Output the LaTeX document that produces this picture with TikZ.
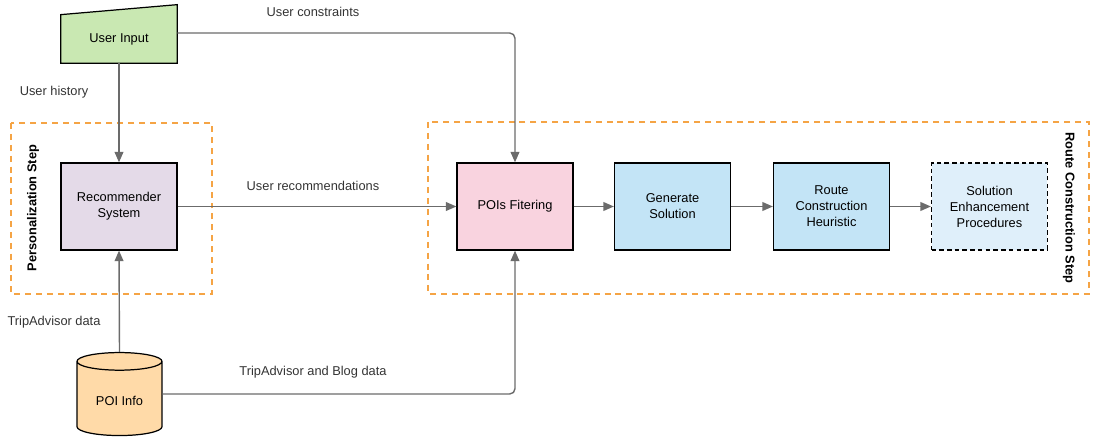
\documentclass[tikz,border=0pt]{standalone}
\usepackage{fontspec}
\setmainfont{Liberation Sans}
\usepackage{tikz}
\usetikzlibrary{shapes.geometric, arrows.meta, calc, backgrounds}
\definecolor{inputgreen}{HTML}{C9E8B2}
\definecolor{recpurple}{HTML}{E4DAE8}
\definecolor{filterpink}{HTML}{F9D3DF}
\definecolor{stepblue}{HTML}{C3E4F6}
\definecolor{enhblue}{HTML}{DFEFFA}
\definecolor{poiorange}{HTML}{FFDAA8}
\definecolor{phaseorange}{HTML}{F5A445}
\definecolor{flowgray}{HTML}{6B6B6B}
\definecolor{labelgray}{HTML}{333333}
\tikzstyle{block}  = [draw, line width=0.7pt, minimum width=2.32cm, minimum height=1.74cm, align=center]
\tikzstyle{flow}   = [draw=flowgray, line width=0.8pt, -{Triangle[length=6pt, width=5pt]}]
\tikzstyle{phase}  = [draw=phaseorange, line width=0.75pt, dash pattern=on 3.4pt off 2.8pt]
\tikzstyle{info}   = [text=labelgray]
\tikzstyle{stage}  = [font=\fontsize{7.3pt}{9pt}\selectfont\bfseries]

\begin{document}
\begin{tikzpicture}[x=0.02cm, y=-0.02cm, font=\fontsize{7.3pt}{9.1pt}\selectfont]
\useasboundingbox (0,0) rectangle (1093,438);

% phases
\draw [phase] (11,123) rectangle (212,294);
\draw [phase] (428,122) rectangle (1089,294);
\node [stage, rotate=90]  at (33,208)   (pstep) {Personalization Step};
\node [stage, rotate=-90] at (1069,208) (rstep) {Route Construction Step};

% nodes
\node [minimum width=2.32cm, minimum height=0.96cm] at (119,39) (input) {User Input};
\begin{scope}[on background layer]
  \draw [fill=inputgreen, line width=0.7pt]
    (input.south west) -- (input.south east) -- ($(input.north east)+(0,-10)$) -- (input.north west) -- cycle;
\end{scope}
\node [block, fill=recpurple]  at (119,206.5) (rec)    {Recommender\\System};
\node [block, fill=filterpink] at (515,206.5) (filter) {POIs Fitering};
\node [block, fill=stepblue]   at (672.5,206.5) (gen)  {Generate\\Solution};
\node [block, fill=stepblue]   at (831.5,206.5) (heur) {Route\\Construction\\Heuristic};
\node [block, fill=enhblue, dash pattern=on 2.6pt off 1.8pt] at (989.5,206.5) (enh) {Solution\\Enhancement\\Procedures};
\node [draw, line width=0.7pt, fill=poiorange, cylinder, shape border rotate=90, aspect=0.3,
       minimum width=1.7cm, minimum height=1.66cm] at (119.5,401) (poi) {POI Info};

% edges
\path [flow] (input.south) -- (rec.north);
\path [flow, rounded corners=3pt] ($(input.east)+(0,-6)$) -| (filter.north);
\path [flow] (rec.east) -- (filter.west);
\path [flow] (poi.north) -- (rec.south);
\path [flow, rounded corners=3pt] ($(poi.east)+(0,-7)$) -| (filter.south);
\path [flow] (filter) -- (gen);
\path [flow] (gen) -- (heur);
\path [flow] (heur) -- (enh);

% labels
\node [info] at (313,12)  (lcons) {User constraints};
\node [info] at (54,92)   (lhist) {User history};
\node [info] at (313,186) (lrec)  {User recommendations};
\node [info] at (54,322)  (ltrip) {TripAdvisor data};
\node [info] at (313,372) (lblog) {TripAdvisor and Blog data};

\end{tikzpicture}
\end{document}
